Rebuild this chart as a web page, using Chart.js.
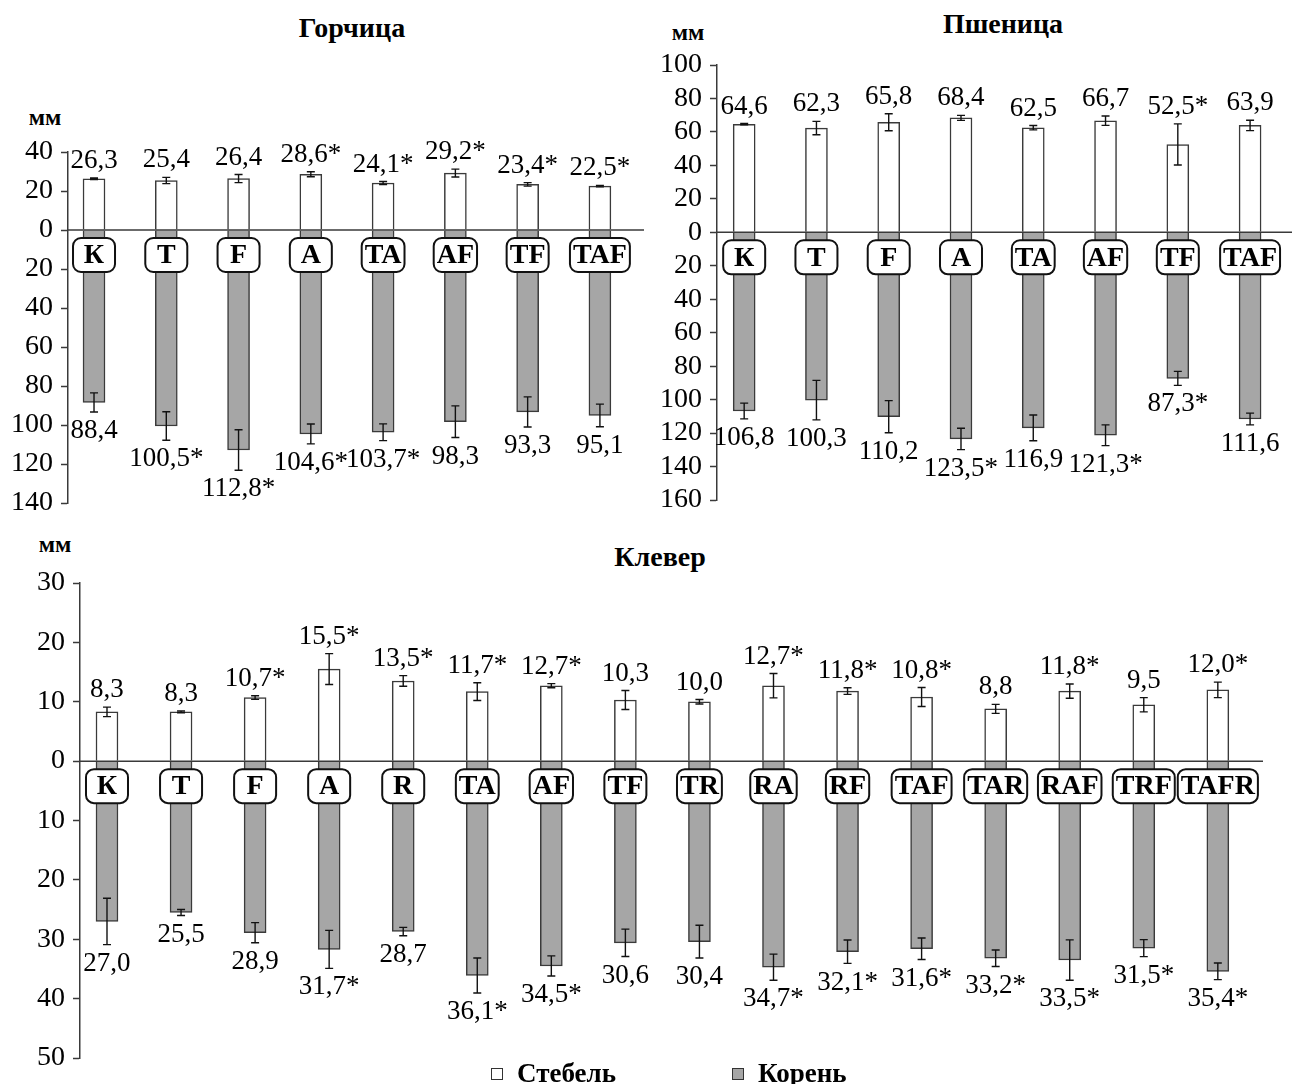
<!DOCTYPE html>
<html lang="ru">
<head>
<meta charset="utf-8">
<title>Длина стебля и корня</title>
<script src="https://cdn.jsdelivr.net/npm/chart.js@4.4.1/dist/chart.umd.min.js"></script>
<style>
  html, body { margin: 0; padding: 0; background: #fff; }
  body { width: 1294px; height: 1084px; position: relative; overflow: hidden;
         font-family: "Liberation Serif", "Times New Roman", serif; color: #000; }
  canvas { position: absolute; }
  .txt { position: absolute; white-space: nowrap; font-weight: bold; transform: translate(-50%, -50%); }
  .title { font-size: 28px; }
  .unit { font-size: 24px; }
  .legend { position: absolute; top: 1058px; font-size: 27px; font-weight: bold; line-height: 30px; white-space: nowrap; }
  .swatch { display: inline-block; width: 10px; height: 10px; border: 1px solid #333; margin-right: 14px; vertical-align: 2px; }
</style>
</head>
<body>

<div class="txt title" style="left:352px; top:28px;">Горчица</div>
<div class="txt title" style="left:1003px; top:24px;">Пшеница</div>
<div class="txt title" style="left:660px; top:557px;">Клевер</div>
<div class="txt unit" style="left:45px; top:117px;">мм</div>
<div class="txt unit" style="left:688px; top:32px;">мм</div>
<div class="txt unit" style="left:55px; top:544px;">мм</div>

<canvas id="mustard" width="660" height="411" style="left:0px; top:122px;"></canvas>
<canvas id="wheat" width="654" height="495" style="left:640px; top:35px;"></canvas>
<canvas id="clover" width="1294" height="535" style="left:0px; top:553px;"></canvas>

<div class="legend" style="left:491px;"><span class="swatch" style="background:#fff;"></span>Стебель</div>
<div class="legend" style="left:732px;"><span class="swatch" style="background:#a6a6a6;"></span>Корень</div>

<script>
// ---- Горчица ----
const mustardCats = ['К', 'T', 'F', 'A', 'TA', 'AF', 'TF', 'TAF'];
const mustardStem = [26.3, 25.4, 26.4, 28.6, 24.1, 29.2, 23.4, 22.5];
const mustardStemErr = [0.4, 1.6, 2.1, 1.3, 0.8, 2.0, 0.9, 0.4];
const mustardStemSig = [0, 0, 0, 1, 1, 1, 1, 1];
const mustardRoot = [88.4, 100.5, 112.8, 104.6, 103.7, 98.3, 93.3, 95.1];
const mustardRootErr = [4.9, 7.3, 10.4, 5.1, 4.3, 8.1, 7.7, 5.8];
const mustardRootSig = [0, 1, 1, 1, 1, 0, 0, 0];

// ---- Пшеница ----
const wheatCats = ['К', 'T', 'F', 'A', 'TA', 'AF', 'TF', 'TAF'];
const wheatStem = [64.6, 62.3, 65.8, 68.4, 62.5, 66.7, 52.5, 63.9];
const wheatStemErr = [0.4, 4.0, 5.1, 1.5, 1.3, 2.8, 12.3, 3.1];
const wheatStemSig = [0, 0, 0, 0, 0, 0, 1, 0];
const wheatRoot = [106.8, 100.3, 110.2, 123.5, 116.9, 121.3, 87.3, 111.6];
const wheatRootErr = [4.7, 11.8, 9.6, 6.4, 7.7, 6.2, 4.2, 3.5];
const wheatRootSig = [0, 0, 0, 1, 0, 1, 1, 0];

// ---- Клевер ----
const cloverCats = ['К', 'T', 'F', 'A', 'R', 'TA', 'AF', 'TF', 'TR', 'RA', 'RF', 'TAF', 'TAR', 'RAF', 'TRF', 'TAFR'];
const cloverStem = [8.3, 8.3, 10.7, 15.5, 13.5, 11.7, 12.7, 10.3, 10.0, 12.7, 11.8, 10.8, 8.8, 11.8, 9.5, 12.0];
const cloverStemErr = [0.8, 0.15, 0.3, 2.6, 0.9, 1.5, 0.35, 1.6, 0.37, 2.05, 0.56, 1.6, 0.76, 1.2, 1.2, 1.3];
const cloverStemSig = [0, 0, 1, 1, 1, 1, 1, 0, 0, 1, 1, 1, 0, 1, 0, 1];
const cloverRoot = [27.0, 25.5, 28.9, 31.7, 28.7, 36.1, 34.5, 30.6, 30.4, 34.7, 32.1, 31.6, 33.2, 33.5, 31.5, 35.4];
const cloverRootErr = [3.9, 0.5, 1.7, 3.2, 0.7, 2.95, 1.7, 2.3, 2.75, 2.2, 1.97, 1.8, 1.4, 3.4, 1.43, 1.4];
const cloverRootSig = [0, 0, 0, 1, 0, 1, 1, 0, 0, 1, 1, 1, 1, 1, 1, 1];

const seriesNames = ['Стебель', 'Корень'];

const SERIF = '"Liberation Serif", "Times New Roman", serif';
const EDGE = '#3a3a3a';

function fmt(v, sig) {
  return v.toFixed(1).replace('.', ',') + (sig ? '*' : '');
}

// zero line, error bars, value labels and category boxes
const decorations = {
  id: 'decorations',
  afterDatasetsDraw(chart) {
    const { ctx, chartArea, scales } = chart;
    const xs = scales.x, ys = scales.y;
    const p = chart.options.plugins.decorations;
    const y0 = ys.getPixelForValue(0);

    ctx.save();
    // zero line
    ctx.strokeStyle = EDGE;
    ctx.lineWidth = 1.5;
    ctx.beginPath();
    ctx.moveTo(chartArea.left, y0);
    ctx.lineTo(chartArea.right, y0);
    ctx.stroke();

    // error bars
    ctx.strokeStyle = '#111';
    ctx.lineWidth = 1.4;
    const cap = 4;
    const drawErr = (x, a, b) => {
      const ya = ys.getPixelForValue(a), yb = ys.getPixelForValue(b);
      ctx.beginPath();
      ctx.moveTo(x, ya); ctx.lineTo(x, yb);
      ctx.moveTo(x - cap, ya); ctx.lineTo(x + cap, ya);
      ctx.moveTo(x - cap, yb); ctx.lineTo(x + cap, yb);
      ctx.stroke();
    };
    p.cats.forEach((c, i) => {
      const x = xs.getPixelForValue(i);
      drawErr(x, p.stem[i] - p.stemErr[i], p.stem[i] + p.stemErr[i]);
      drawErr(x, -(p.root[i] - p.rootErr[i]), -(p.root[i] + p.rootErr[i]));
    });

    // value labels
    ctx.fillStyle = '#000';
    ctx.font = '27px ' + SERIF;
    ctx.textAlign = 'center';
    ctx.textBaseline = 'middle';
    p.cats.forEach((c, i) => {
      const x = xs.getPixelForValue(i);
      const yTop = ys.getPixelForValue(p.stem[i] + p.stemErr[i]) - 17;
      ctx.fillText(fmt(p.stem[i], p.stemSig[i]), x, yTop);
      const yBot = ys.getPixelForValue(-(p.root[i] + p.rootErr[i])) + 19;
      ctx.fillText(fmt(p.root[i], p.rootSig[i]), x, yBot);
    });

    // category boxes under the zero line
    ctx.font = 'bold 28px ' + SERIF;
    p.cats.forEach((c, i) => {
      const x = xs.getPixelForValue(i);
      const tw = ctx.measureText(c).width;
      const w = Math.max(42, tw + 6), h = 34, r = 8;
      const bx = x - w / 2, by = y0 + 8;
      ctx.beginPath();
      ctx.roundRect(bx, by, w, h, r);
      ctx.fillStyle = '#fff';
      ctx.fill();
      ctx.lineWidth = 2;
      ctx.strokeStyle = '#111';
      ctx.stroke();
      ctx.fillStyle = '#000';
      ctx.fillText(c, x, by + h / 2 + 1);
    });
    ctx.restore();
  }
};

function makePanel(id, cfg) {
  const stemData = cfg.stem.map((v, i) => ({ x: i, y: v }));
  const rootData = cfg.root.map((v, i) => ({ x: i, y: -v }));
  return new Chart(document.getElementById(id), {
    type: 'bar',
    data: {
      datasets: [
        { label: seriesNames[0], data: stemData, backgroundColor: '#ffffff', borderColor: EDGE,
          borderWidth: 1.5, barThickness: 22, grouped: false },
        { label: seriesNames[1], data: rootData, backgroundColor: '#a6a6a6', borderColor: EDGE,
          borderWidth: 1.5, barThickness: 22, grouped: false }
      ]
    },
    options: {
      responsive: false,
      animation: false,
      devicePixelRatio: 1,
      layout: { padding: { left: 0, right: cfg.padRight, top: 30, bottom: 30 } },
      plugins: {
        legend: { display: false },
        tooltip: { enabled: false },
        decorations: {
          cats: cfg.cats, stem: cfg.stem, stemErr: cfg.stemErr, stemSig: cfg.stemSig,
          root: cfg.root, rootErr: cfg.rootErr, rootSig: cfg.rootSig
        }
      },
      scales: {
        x: { type: 'linear', min: cfg.xMin, max: cfg.xMax, display: false, offset: false },
        y: {
          min: cfg.yMin, max: cfg.yMax,
          afterFit(scale) { scale.width = cfg.axisWidth; },
          ticks: {
            stepSize: cfg.step,
            autoSkip: false,
            color: '#000',
            padding: 8,
            font: { family: SERIF, size: 28 },
            callback: v => String(Math.abs(v))
          },
          grid: { drawOnChartArea: false, drawTicks: true, tickLength: 7, tickColor: EDGE, tickWidth: 1.5 },
          border: { display: true, color: EDGE, width: 1.5 }
        }
      }
    },
    plugins: [decorations]
  });
}

makePanel('mustard', {
  cats: mustardCats, stem: mustardStem, stemErr: mustardStemErr, stemSig: mustardStemSig,
  root: mustardRoot, rootErr: mustardRootErr, rootSig: mustardRootSig,
  yMin: -140, yMax: 40, step: 20, xMin: -0.36, xMax: 7.61, axisWidth: 68, padRight: 16
});

makePanel('wheat', {
  cats: wheatCats, stem: wheatStem, stemErr: wheatStemErr, stemSig: wheatStemSig,
  root: wheatRoot, rootErr: wheatRootErr, rootSig: wheatRootSig,
  yMin: -160, yMax: 100, step: 20, xMin: -0.376, xMax: 7.58, axisWidth: 77, padRight: 2
});

makePanel('clover', {
  cats: cloverCats, stem: cloverStem, stemErr: cloverStemErr, stemSig: cloverStemSig,
  root: cloverRoot, rootErr: cloverRootErr, rootSig: cloverRootSig,
  yMin: -50, yMax: 30, step: 10, xMin: -0.3645, xMax: 15.61, axisWidth: 80, padRight: 31
});
</script>
</body>
</html>
